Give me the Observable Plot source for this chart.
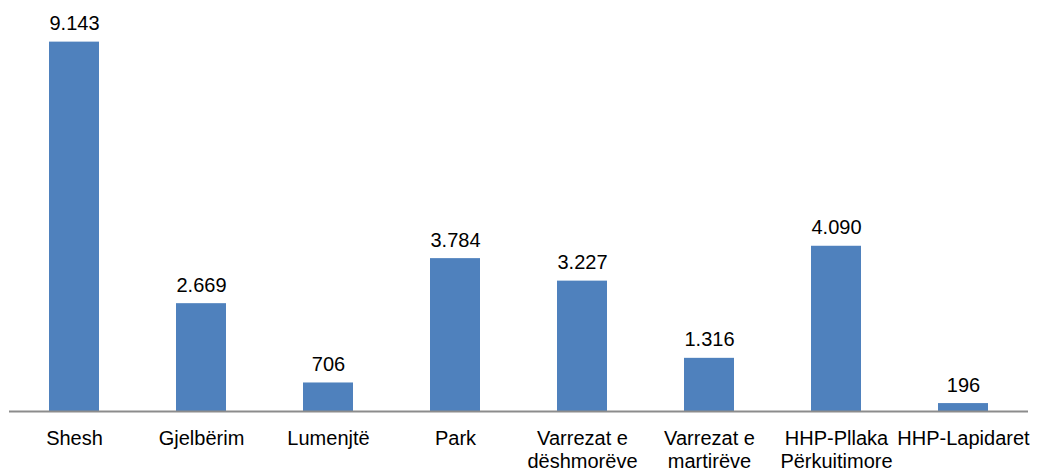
<!DOCTYPE html>
<html>
<head>
<meta charset="utf-8">
<script src="https://cdn.jsdelivr.net/npm/d3@7"></script>
<script src="https://cdn.jsdelivr.net/npm/@observablehq/plot@0.6"></script>
<style>
  html, body { margin: 0; padding: 0; background: #fff; overflow: hidden; }
  svg { font-family: "Liberation Sans", Arial, sans-serif; display: block; }
</style>
</head>
<body>
<div id="chart"></div>
<script>
const categories = ["Shesh", "Gjelbërim", "Lumenjtë", "Park", "Varrezat e\ndëshmorëve", "Varrezat e\nmartirëve", "HHP-Pllaka\nPërkujtimore", "HHP-Lapidaret"];
const values = [9143, 2669, 706, 3784, 3227, 1316, 4090, 196];
const valueLabels = ["9.143", "2.669", "706", "3.784", "3.227", "1.316", "4.090", "196"];

const data = categories.map((c, i) => ({cat: c, value: values[i], label: valueLabels[i]}));

const chart = Plot.plot({
  width: 1057,
  height: 468,
  marginLeft: 9,
  marginRight: 29,
  marginTop: 7,
  marginBottom: 57,
  style: {fontFamily: "Liberation Sans, Arial, sans-serif", fontSize: "20px", color: "#000", background: "#fff", overflow: "visible"},
  x: {domain: categories, paddingInner: 0.61, paddingOuter: 0.305, label: null},
  y: {domain: [0, 10000], axis: null},
  marks: [
    Plot.barY(data, {x: "cat", y: "value", fill: "#4f81bd"}),
    Plot.ruleY([0], {stroke: "#8c8c8c", strokeWidth: 2}),
    Plot.text(data, {x: "cat", y: "value", text: "label", dy: -12, lineAnchor: "bottom", fontSize: 20, fill: "#000"}),
    Plot.axisX({tickSize: 0, tickPadding: 17, fontSize: 20, lineHeight: 1.15, label: null, fill: "#000", textAnchor: "middle", lineAnchor: "top"})
  ]
});
document.getElementById("chart").appendChild(chart);
</script>
</body>
</html>
